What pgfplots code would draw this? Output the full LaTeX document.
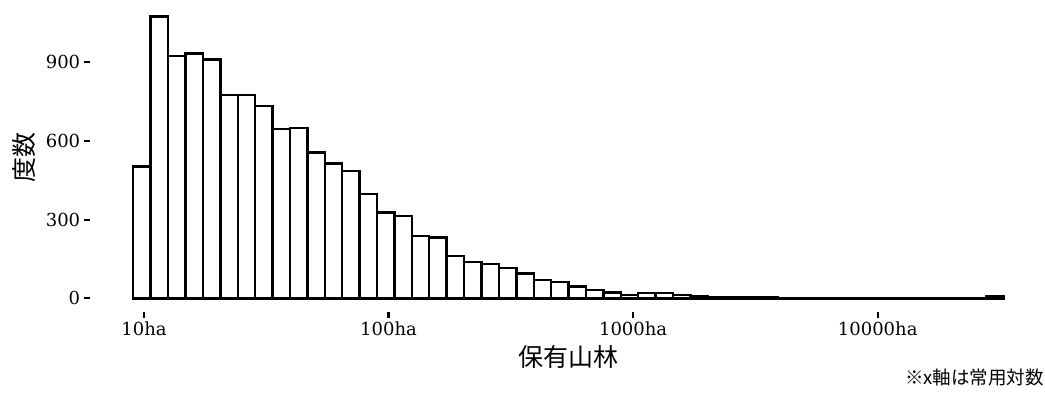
\documentclass[border=0pt]{standalone}
\usepackage{fontspec}
\setmainfont{DejaVu Serif}
\newfontfamily\cjk{Noto Sans CJK JP}
\usepackage{pgfplots}
\usepackage{pgfplotstable}
\pgfplotsset{compat=1.18}
\pgfplotstableread{
x y
0.9560 502
1.0272 1075
1.0984 925
1.1696 934
1.2408 911
1.3120 775
1.3832 775
1.4544 733
1.5256 645
1.5968 649
1.6680 556
1.7392 514
1.8104 486
1.8816 397
1.9528 327
2.0240 314
2.0952 238
2.1664 232
2.2376 162
2.3088 139
2.3800 130
2.4512 115
2.5224 95
2.5936 71
2.6648 63
2.7360 45
2.8072 32
2.8784 23
2.9496 12
3.0208 20
3.0920 20
3.1632 13
3.2344 9
3.3056 5
3.3768 4
3.4480 3
3.5192 3
3.5904 2
3.6616 2
3.7328 1
3.8040 1
3.8752 0
3.9464 0
4.0176 0
4.0888 0
4.1600 0
4.2312 0
4.3024 0
4.3736 0
4.4448 7
4.5160 7
}\histdata
\begin{document}
\begin{tikzpicture}
\useasboundingbox (0,0) rectangle (1045pt,398pt);
\begin{axis}[
 at={(89.7pt,85.5pt)}, anchor=south west,
 scale only axis, width=955.3pt, height=311pt,
 xmin=0.778, xmax=4.684, ymin=-54, ymax=1132,
 axis x line*=bottom, axis y line*=left,
 axis line style={draw=none},
 xtick={1,2,3,4}, xticklabels={10ha,100ha,1000ha,10000ha},
 ytick={0,300,600,900},
 tick align=outside, major tick length=6pt,
 every tick/.style={black, line width=2.2pt},
 minor tick num=0,
 tick label style={font=\fontsize{18}{20}\selectfont},
 /pgf/number format/assume math mode=true,
 clip=false,
]
\addplot[ybar interval, fill=white, draw=black, line width=2.4pt] table[x=x,y=y] {\histdata};
\end{axis}
\node[font=\cjk\fontsize{25}{27}\selectfont] at (568pt,41pt) {保有山林};
\node[font=\cjk\fontsize{25}{27}\selectfont, rotate=90] at (24pt,240pt) {度数};
\node[font=\cjk\fontsize{18.5}{20}\selectfont, anchor=east, inner sep=0pt] at (1044pt,20.5pt) {※x軸は常用対数};
\end{tikzpicture}
\end{document}
